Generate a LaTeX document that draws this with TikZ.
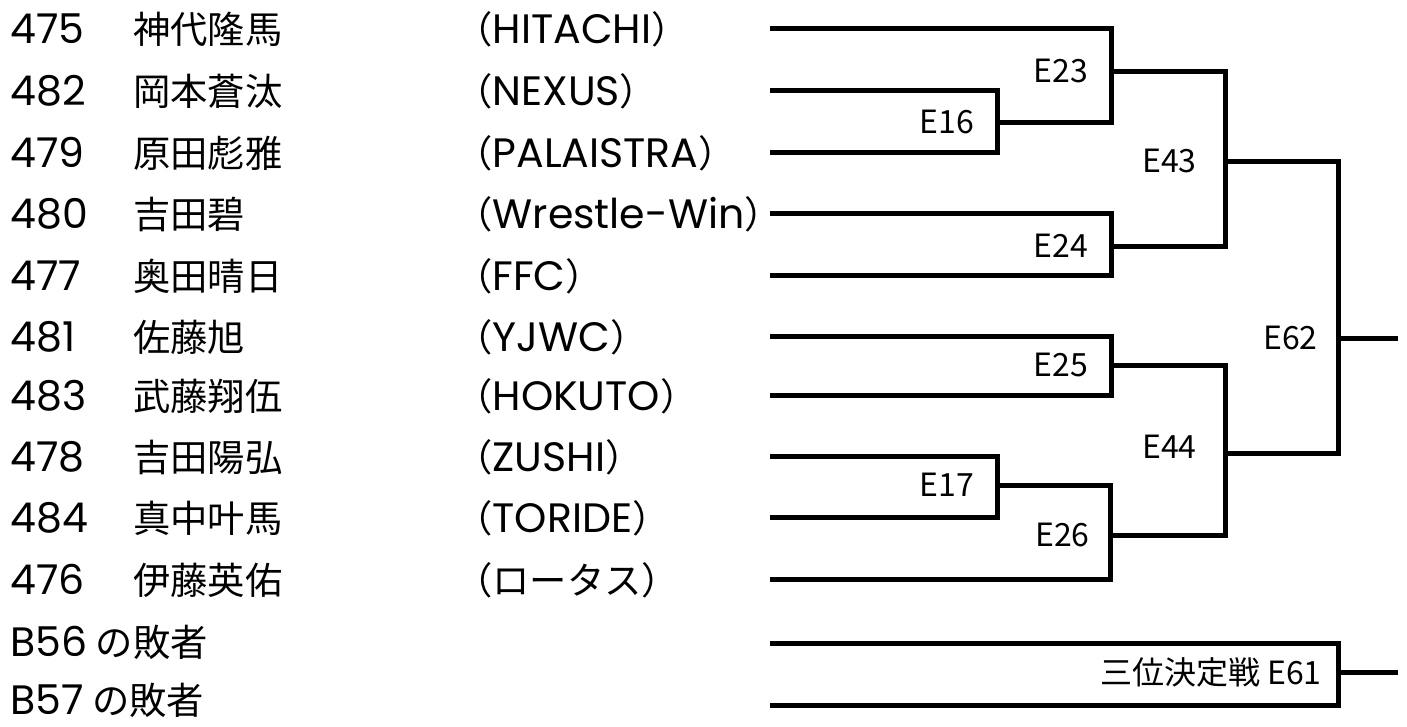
\documentclass[tikz,border=0pt]{standalone}
\usepackage{fontspec}
\setmainfont{Noto Sans CJK JP}
\newfontfamily\lat[Scale=1.1]{Poppins}
\usetikzlibrary{positioning}

\begin{document}
\begin{tikzpicture}[x=0.75pt,y=-0.75pt]
  \tikzstyle{entry}=[anchor=base west,inner sep=0pt,yshift=-11.25pt,font=\fontsize{28pt}{30pt}\selectfont]
  \tikzstyle{match}=[inner sep=0pt,font=\fontsize{24pt}{26pt}\selectfont]
  \tikzstyle{bracket}=[line width=3.75pt,line join=miter]
  \useasboundingbox (0,0) rectangle (1407,726);

  % entries
  \node[entry] (n1) at (10,28) {\lat 475};
  \node[entry] (p1) at (133,28) {神代隆馬};
  \node[entry] (t1) at (455,28) {（{\lat HITACHI}）};
  \node[entry] (n2) at (10,90) {\lat 482};
  \node[entry] (p2) at (133,90) {岡本蒼汰};
  \node[entry] (t2) at (455,90) {（{\lat NEXUS}）};
  \node[entry] (n3) at (10,152) {\lat 479};
  \node[entry] (p3) at (133,152) {原田彪雅};
  \node[entry] (t3) at (455,152) {（{\lat PALAISTRA}）};
  \node[entry] (n4) at (10,213) {\lat 480};
  \node[entry] (p4) at (133,213) {吉田碧};
  \node[entry] (t4) at (455,213) {（{\lat Wrestle-Win}）};
  \node[entry] (n5) at (10,275) {\lat 477};
  \node[entry] (p5) at (133,275) {奥田晴日};
  \node[entry] (t5) at (455,275) {（{\lat FFC}）};
  \node[entry] (n6) at (10,336) {\lat 481};
  \node[entry] (p6) at (133,336) {佐藤旭};
  \node[entry] (t6) at (455,336) {（{\lat YJWC}）};
  \node[entry] (n7) at (10,395) {\lat 483};
  \node[entry] (p7) at (133,395) {武藤翔伍};
  \node[entry] (t7) at (455,395) {（{\lat HOKUTO}）};
  \node[entry] (n8) at (10,456) {\lat 478};
  \node[entry] (p8) at (133,456) {吉田陽弘};
  \node[entry] (t8) at (455,456) {（{\lat ZUSHI}）};
  \node[entry] (n9) at (10,517) {\lat 484};
  \node[entry] (p9) at (133,517) {真中叶馬};
  \node[entry] (t9) at (455,517) {（{\lat TORIDE}）};
  \node[entry] (n10) at (10,579) {\lat 476};
  \node[entry] (p10) at (133,579) {伊藤英佑};
  \node[entry] (t10) at (455,579) {（ロータス）};
  \node[entry] (n11) at (10,641) {{\lat B56} の敗者};
  \node[entry] (n12) at (10,699) {{\lat B57} の敗者};

  % line starts
  \coordinate (s1) at (770,28);
  \coordinate (s2) at (770,90);
  \coordinate (s3) at (770,152);
  \coordinate (s4) at (770,213);
  \coordinate (s5) at (770,275);
  \coordinate (s6) at (770,336);
  \coordinate (s7) at (770,395);
  \coordinate (s8) at (770,456);
  \coordinate (s9) at (770,517);
  \coordinate (s10) at (770,579);
  \coordinate (s11) at (770,643);
  \coordinate (s12) at (770,705);

  % match points
  \coordinate (m16) at (997,122);
  \coordinate (m23) at (1111,71);
  \coordinate (m24) at (1111,246);
  \coordinate (m43) at (1225,161);
  \coordinate (m25) at (1111,365);
  \coordinate (m17) at (997,485);
  \coordinate (m26) at (1110,535);
  \coordinate (m44) at (1225,453);
  \coordinate (m62) at (1338,338);
  \coordinate (w62) at (1398,338);
  \coordinate (m61) at (1338,672);
  \coordinate (w61) at (1398,672);

  \draw[bracket] (s2) -| (m16) |- (s3);
  \draw[bracket] (s1) -| (m23) |- (m16);
  \draw[bracket] (s4) -| (m24) |- (s5);
  \draw[bracket] (m23) -| (m43) |- (m24);
  \draw[bracket] (s6) -| (m25) |- (s7);
  \draw[bracket] (s8) -| (m17) |- (s9);
  \draw[bracket] (m17) -| (m26) |- (s10);
  \draw[bracket] (m25) -| (m44) |- (m26);
  \draw[bracket] (m43) -| (m62) |- (m44);
  \draw[bracket] (m62) -- (w62);
  \draw[bracket] (s11) -| (m61) |- (s12);
  \draw[bracket] (m61) -- (w61);

  \node[match, left=17pt of m16] (l16) {E16};
  \node[match, left=17pt of m23] (l23) {E23};
  \node[match, left=17pt of m24] (l24) {E24};
  \node[match, left=21pt of m43] (l43) {E43};
  \node[match, left=17pt of m25] (l25) {E25};
  \node[match, left=17pt of m17] (l17) {E17};
  \node[match, left=15pt of m26] (l26) {E26};
  \node[match, left=21pt of m44, yshift=5pt] (l44) {E44};
  \node[match, left=15pt of m62] (l62) {E62};
  \node[match, left=12pt of m61] (l61) {三位決定戦 E61};
\end{tikzpicture}
\end{document}
